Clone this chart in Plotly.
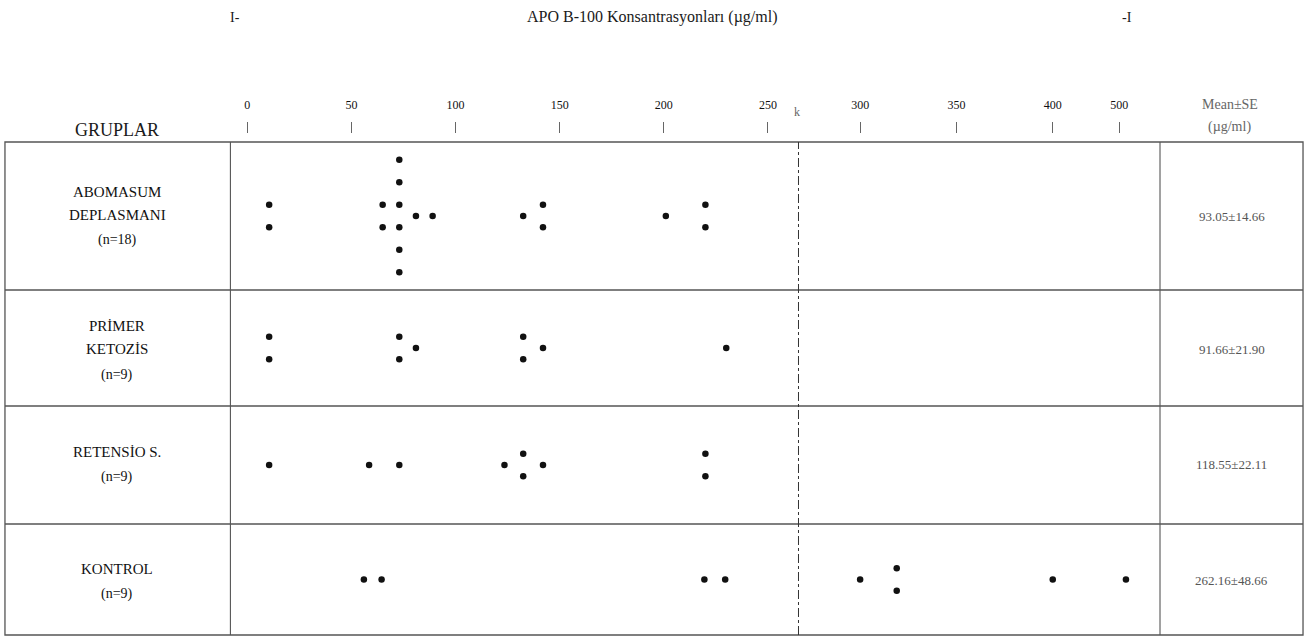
import plotly.graph_objects as go

# ---------------- data ----------------
title_text = "APO B-100 Konsantrasyonları (µg/ml)"
group_lines = [
    ["ABOMASUM", "DEPLASMANI", "(n=18)"],
    ["PRİMER", "KETOZİS", "(n=9)"],
    ["RETENSİO S.", "(n=9)"],
    ["KONTROL", "(n=9)"],
]
mean_se = ["93.05±14.66", "91.66±21.90", "118.55±22.11", "262.16±48.66"]

abomasum = [10.5, 10.5, 65, 65, 73, 73, 73, 73, 73, 73, 81, 89, 132.5, 142, 142, 201, 220, 220]
primer = [10.5, 10.5, 73, 73, 81, 132.5, 132.5, 142, 230]
retensio = [10.5, 58.5, 73, 123.5, 132.5, 132.5, 142, 220, 220]
kontrol = [56, 64.5, 219.5, 229.5, 300, 319, 319, 400, 510]
groups = [abomasum, primer, retensio, kontrol]

tick_values = [0, 50, 100, 150, 200, 250, 300, 350, 400, 500]
tick_labels = ["0", "50", "100", "150", "200", "250", "300", "350", "400", "500"]

# ---------------- layout geometry (pixels) ----------------
W, H = 1315, 639
def px(x):
    return x / W
def py(y):
    return 1 - y / H

TABLE_L, TABLE_R = 5, 1312
COL1, COL2 = 232, 1168
BREAK1, BREAK2 = 804, 1060
ROWS = [(142, 290), (290, 406), (406, 524), (524, 635)]
LEVEL_PX = 22.5

# axis segments: (domain px, value range)
segments = [
    ((COL1, BREAK1), (-8.1, 264.7)),
    ((BREAK1, BREAK2), (268.0, 400.0)),
    ((BREAK2, COL2), (400.0, 561.2)),
]

FONT = "Liberation Serif"
fig = go.Figure()

def seg_index(v):
    for i, (_, (lo, hi)) in enumerate(segments):
        if lo <= v <= hi:
            return i
    return len(segments) - 1

# stacked dot positions: identical values stack vertically, centred on the row
for r, vals in enumerate(groups):
    counts = {}
    for v in vals:
        counts[v] = counts.get(v, 0) + 1
    seen = {}
    xs = {0: [], 1: [], 2: []}
    ys = {0: [], 1: [], 2: []}
    for v in vals:
        k = seen.get(v, 0)
        seen[v] = k + 1
        lvl = k - (counts[v] - 1) / 2
        s = seg_index(v)
        xs[s].append(v)
        ys[s].append(lvl)
    for s in range(3):
        if not xs[s]:
            continue
        fig.add_trace(go.Scatter(
            x=xs[s], y=ys[s], mode="markers",
            marker=dict(size=6.5, color="#111"),
            xaxis="x" if s == 0 else f"x{s+1}",
            yaxis="y" if r == 0 else f"y{r+1}",
            showlegend=False, hoverinfo="x", cliponaxis=False,
        ))

layout = dict(
    width=W, height=H, margin=dict(l=0, r=0, t=0, b=0),
    paper_bgcolor="white", plot_bgcolor="rgba(0,0,0,0)",
    font=dict(family=FONT, color="#222"),
    showlegend=False,
)

for s, ((d0, d1), rng) in enumerate(segments):
    tv = [t for t in tick_values if rng[0] <= t <= rng[1] and not (s == 2 and t == 400)]
    tt = [tick_labels[tick_values.index(t)] for t in tv]
    key = "xaxis" if s == 0 else f"xaxis{s+1}"
    layout[key] = dict(
        domain=[px(d0), px(d1)], range=list(rng), anchor="free", position=py(133),
        side="top", showgrid=False, zeroline=False, showline=False,
        tickmode="array", tickvals=tv, ticktext=tt,
        ticks="outside", ticklen=11, tickwidth=1, tickcolor="#666",
        ticklabelstandoff=8,
        tickfont=dict(family=FONT, size=12, color="#111"),
        fixedrange=True,
    )

for r, (t, b) in enumerate(ROWS):
    half = (b - t) / 2 / LEVEL_PX
    key = "yaxis" if r == 0 else f"yaxis{r+1}"
    layout[key] = dict(
        domain=[py(b), py(t)], range=[-half, half], anchor="x",
        visible=False, fixedrange=True,
    )

fig.update_layout(**layout)

# table lines
line_col = "#555"
shapes = []
shapes.append(dict(type="rect", xref="paper", yref="paper",
                   x0=px(TABLE_L), x1=px(TABLE_R), y0=py(ROWS[-1][1]), y1=py(ROWS[0][0]),
                   line=dict(color=line_col, width=1.3)))
for (t, b) in ROWS[1:]:
    shapes.append(dict(type="line", xref="paper", yref="paper",
                       x0=px(TABLE_L), x1=px(TABLE_R), y0=py(t), y1=py(t),
                       line=dict(color=line_col, width=1.3)))
for xv in (COL1, COL2):
    shapes.append(dict(type="line", xref="paper", yref="paper",
                       x0=px(xv), x1=px(xv), y0=py(ROWS[-1][1]), y1=py(ROWS[0][0]),
                       line=dict(color=line_col, width=1.1)))
shapes.append(dict(type="line", xref="paper", yref="paper",
                   x0=px(BREAK1), x1=px(BREAK1), y0=py(ROWS[-1][1]), y1=py(ROWS[0][0]),
                   line=dict(color="#333", width=1, dash="dashdot")))
fig.update_layout(shapes=shapes)

# text
ann = []
def text(x, y, s, size, color="#222", xanchor="center"):
    ann.append(dict(x=px(x), y=py(y), xref="paper", yref="paper", text=s,
                    showarrow=False, xanchor=xanchor, yanchor="middle",
                    font=dict(family=FONT, size=size, color=color)))

text(657, 17, title_text, 16, "#1a1a1a")
text(237, 17, "I-", 14, "#1a1a1a")
text(1135, 17, "-I", 14, "#1a1a1a")
text(118, 130, "GRUPLAR", 18, "#1a1a1a")
text(802, 112, "k", 12, "#666")
text(1238, 104, "Mean±SE", 14, "#666")
text(1238, 127, "(µg/ml)", 14, "#666")

label_y = [[192, 215, 240], [326, 349, 375], [452, 477], [569, 594]]
for lines, ys in zip(group_lines, label_y):
    for i, (s, yy) in enumerate(zip(lines, ys)):
        size = 14 if s.startswith("(") else 15
        text(118, yy, s, size, "#111")

mean_y = [216, 349, 464, 580]
for s, yy in zip(mean_se, mean_y):
    text(1240, yy, s, 13, "#555")

fig.update_layout(annotations=ann)
fig.write_html(
    "out.html",
    config=dict(displayModeBar=False),
    post_script="document.body.style.margin='0';document.body.style.overflow='hidden';",
)
